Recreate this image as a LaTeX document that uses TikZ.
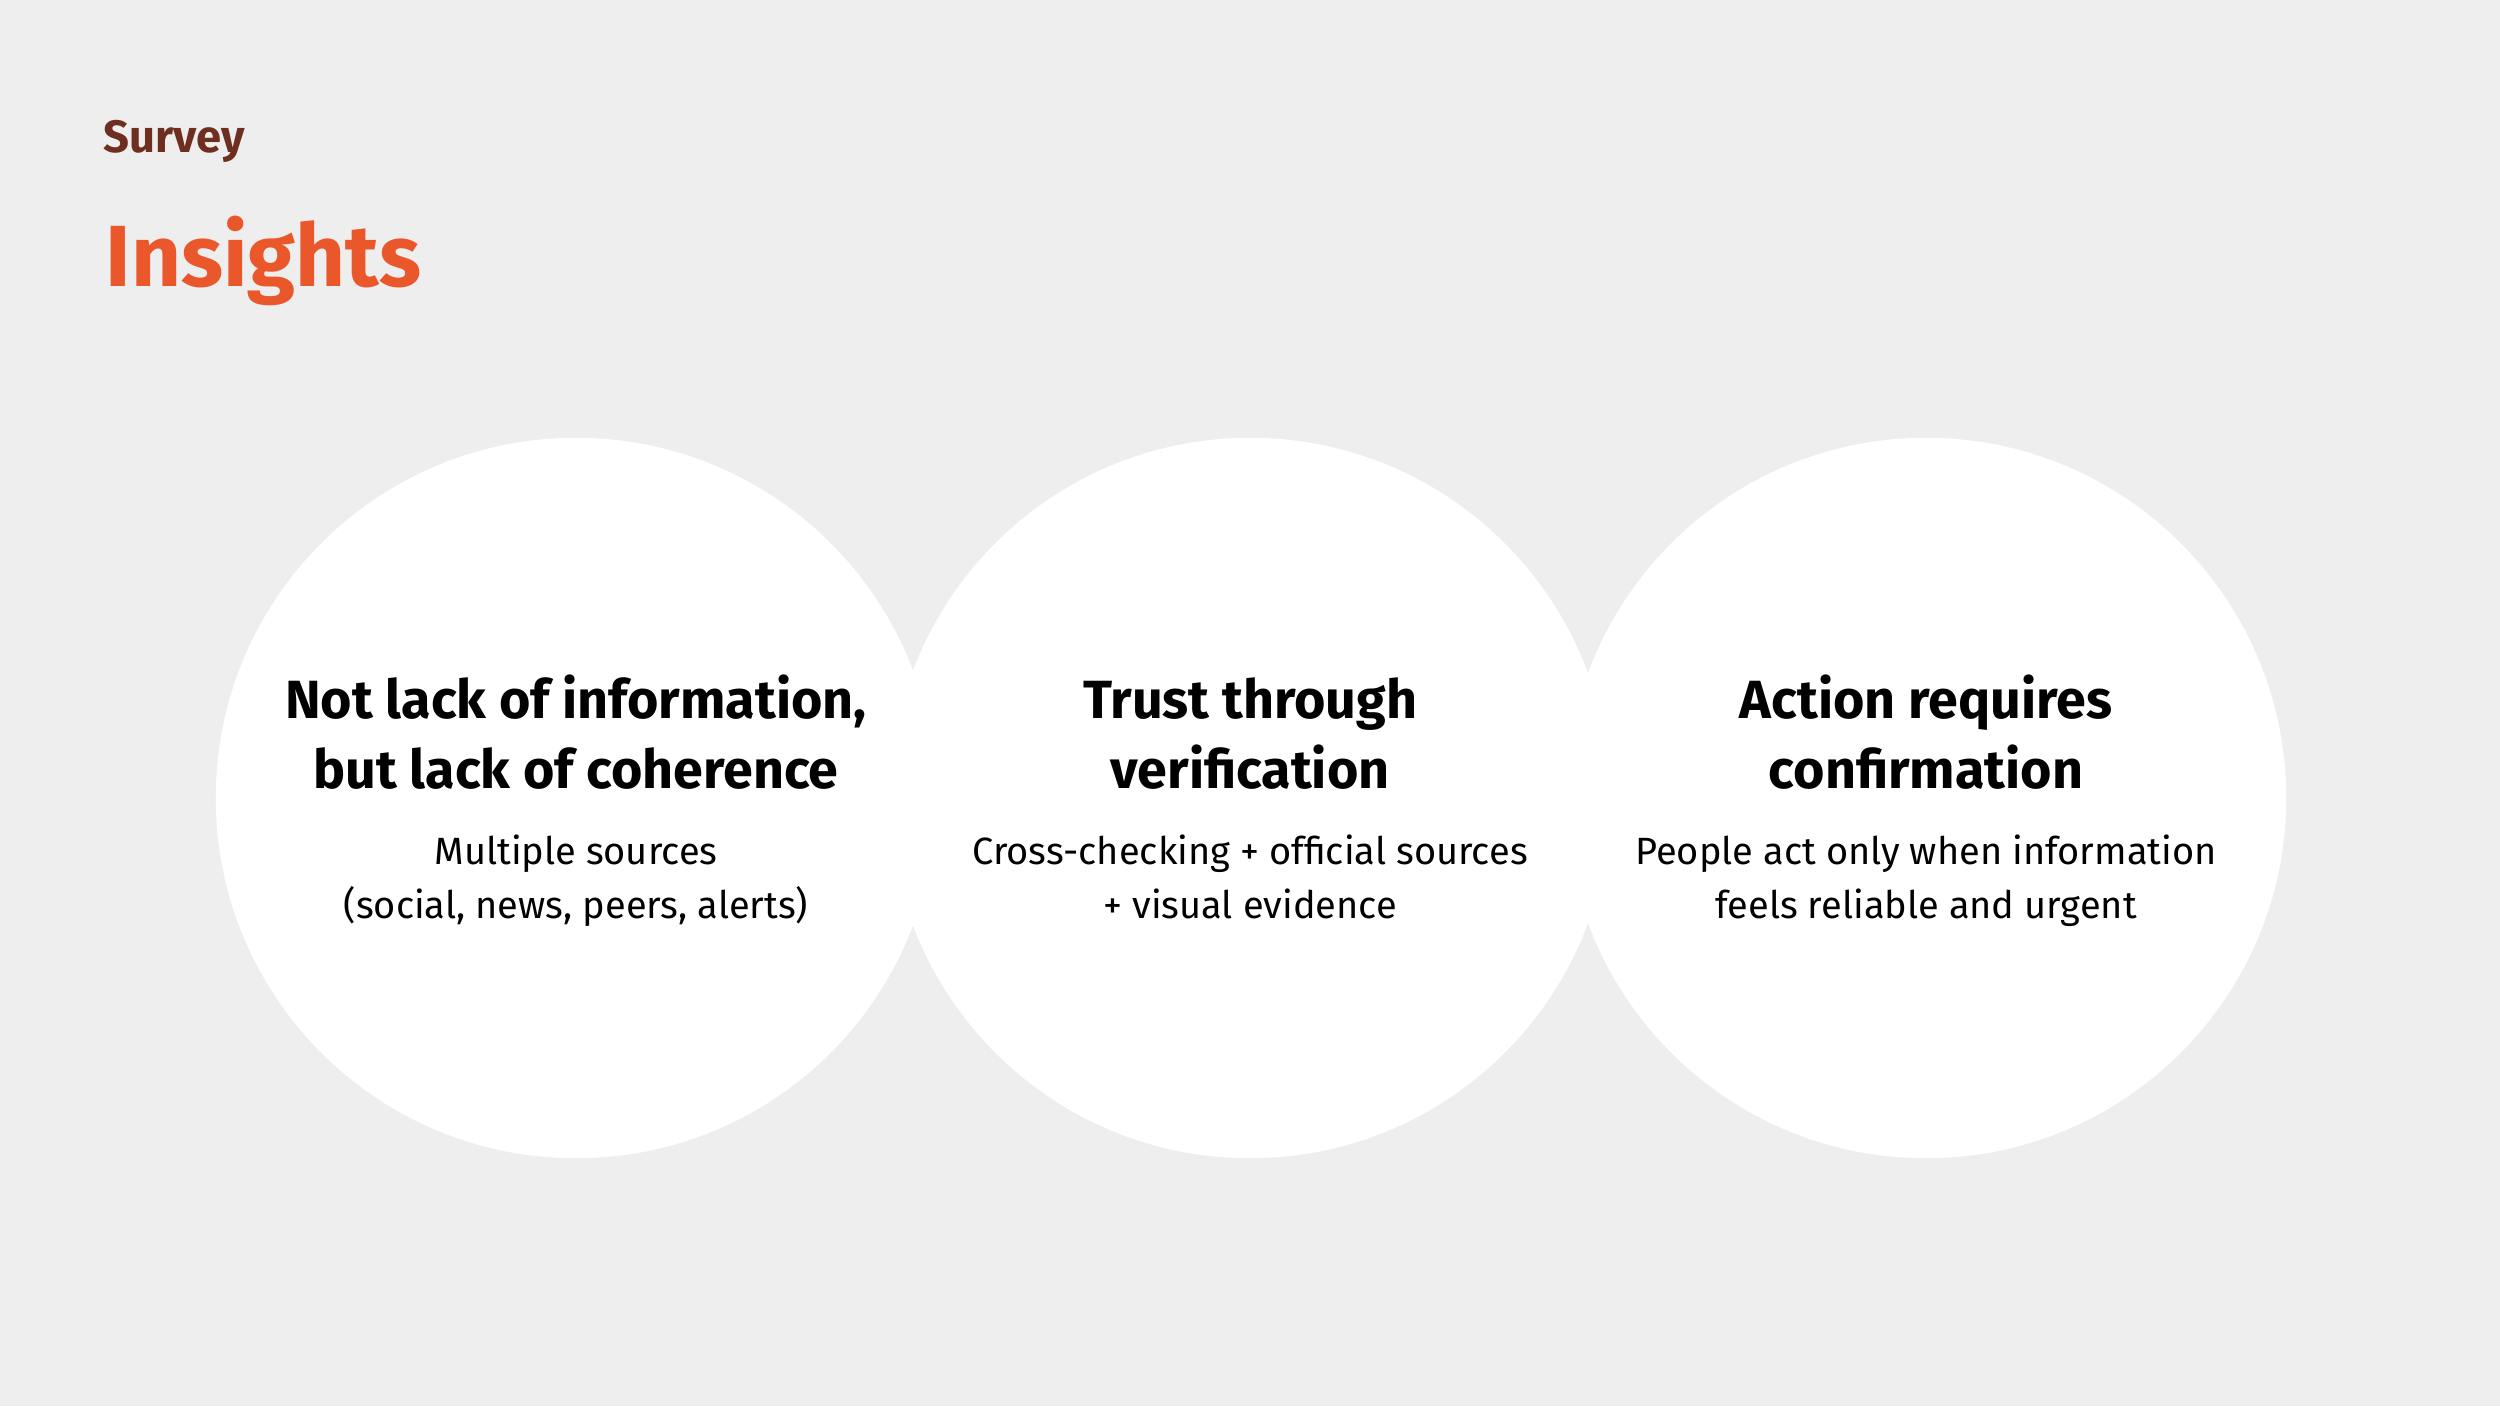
\documentclass[tikz,border=0pt]{standalone}
\usepackage{fontspec}
\setmainfont{Fira Sans}
\usepackage{tikz}

\definecolor{slidebg}{HTML}{EEEEEE}
\definecolor{surveybrown}{HTML}{6E2F20}
\definecolor{insightorange}{HTML}{E9572B}

\tikzset{
  bubble/.style={fill=white, draw=none},
  headline/.style={anchor=base, inner sep=0pt, font=\fontsize{15.3}{18}\selectfont\bfseries},
  bodyline/.style={anchor=base, inner sep=0pt, font=\fontsize{10.8}{13}\selectfont},
}

\begin{document}
\begin{tikzpicture}[x=0.01cm, y=-0.01cm]
\fill[slidebg] (0,0) rectangle (2500,1406);
\useasboundingbox (0,0) rectangle (2500,1406);

% slide title
\node[anchor=base west, inner sep=0pt, text=surveybrown, font=\fontsize{12.9}{15}\selectfont\bfseries] (survey) at (103,152) {Survey};
\node[anchor=base west, inner sep=0pt, text=insightorange, font=\fontsize{24.7}{29}\selectfont\bfseries] (insights) at (105,286) {Insights};

% the three circles
\fill[bubble] (576,798) circle (3.6cm);
\fill[bubble] (1250,798) circle (3.6cm);
\fill[bubble] (1926,798) circle (3.6cm);

% first circle
\node[headline] (h1a) at (576,718) {Not lack of information,};
\node[headline] (h1b) at (576,788) {but lack of coherence};
\node[bodyline] (b1a) at (576,864) {Multiple sources};
\node[bodyline] (b1b) at (576,918) {(social, news, peers, alerts)};

% second circle
\node[headline] (h2a) at (1250,718) {Trust through};
\node[headline] (h2b) at (1250,788) {verification};
\node[bodyline] (b2a) at (1250,864) {Cross-checking + official sources};
\node[bodyline] (b2b) at (1250,918) {+ visual evidence};

% third circle
\node[headline] (h3a) at (1926,718) {Action requires};
\node[headline] (h3b) at (1926,788) {confirmation};
\node[bodyline] (b3a) at (1926,864) {People act only when information};
\node[bodyline] (b3b) at (1926,918) {feels reliable and urgent};
\end{tikzpicture}
\end{document}
